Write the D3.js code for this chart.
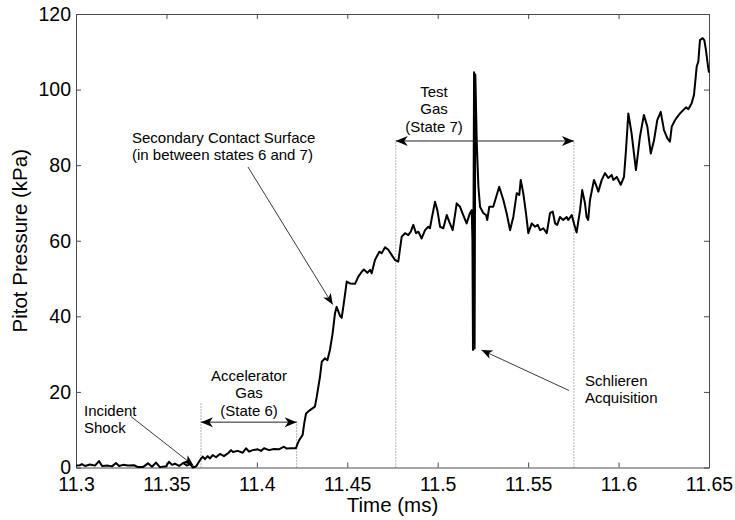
<!DOCTYPE html>
<html><head><meta charset="utf-8">
<script src="https://cdn.jsdelivr.net/npm/d3@7"></script>
<style>
body{margin:0;background:#fff}
svg{display:block}
text{font-family:"Liberation Sans",Arial,Helvetica,sans-serif;fill:#000}
</style>
</head><body>
<svg id="chart" width="735" height="520"></svg>
<script>
// ---- data ----
const time = [
11.3000,11.3022,11.3033,11.3050,11.3077,11.3105,11.3127,11.3144,11.3177,11.3199,
11.3221,11.3238,11.3260,11.3288,11.3321,11.3343,11.3370,11.3398,11.3420,11.3442,
11.3464,11.3498,11.3514,11.3531,11.3547,11.3570,11.3592,11.3614,11.3630,11.3647,
11.3664,11.3686,11.3701,11.3713,11.3728,11.3741,11.3756,11.3774,11.3796,11.3818,
11.3844,11.3857,11.3868,11.3894,11.3922,11.3940,11.3957,11.3977,11.4005,11.4023,
11.4040,11.4067,11.4095,11.4122,11.4150,11.4165,11.4189,11.4216,
11.4226,11.4235,11.4253,11.4262,11.4272,11.4294,11.4321,11.4331,11.4349,11.4359,
11.4377,11.4390,11.4404,11.4419,11.4432,11.4441,11.4460,11.4469,11.4478,11.4497,
11.4515,11.4543,11.4561,11.4580,11.4592,11.4611,11.4626,11.4635,11.4653,11.4677,
11.4690,11.4709,11.4727,11.4746,11.4764,11.4782,
11.4801,11.4819,11.4837,11.4851,11.4865,11.4880,11.4893,11.4911,11.4930,11.4948,
11.4957,11.4967,11.4985,11.4998,11.5013,11.5031,11.5050,11.5064,11.5083,11.5105,
11.5123,11.5141,11.5160,11.5178,11.5188,
11.5192,11.5195,11.5201,11.5204,11.5208,11.5216,
11.5225,11.5234,11.5252,11.5267,11.5274,11.5285,11.5307,11.5340,11.5363,11.5381,
11.5400,11.5418,11.5437,11.5451,11.5459,11.5473,11.5488,11.5501,11.5520,11.5538,
11.5553,11.5566,11.5584,11.5603,11.5621,11.5636,11.5649,11.5661,11.5676,11.5694,
11.5713,11.5722,11.5741,11.5753,11.5768,11.5787,11.5799,11.5814,11.5823,11.5832,
11.5842,11.5864,11.5879,11.5888,11.5907,11.5925,11.5943,11.5962,11.5971,11.5990,
11.6012,11.6030,11.6041,11.6054,11.6072,11.6096,11.6118,11.6140,11.6159,11.6178,
11.6196,11.6214,11.6233,11.6251,11.6270,11.6284,11.6294,11.6312,11.6325,11.6340,
11.6358,11.6373,11.6386,11.6404,11.6417,11.6432,11.6441,11.6450,11.6465,11.6474,
11.6483,11.6496,11.6500
];
const pressure = [
0.5,0.6,0.9,0.4,0.8,0.5,1.7,0.4,0.5,0.3,
1.2,0.4,0.7,0.5,0.6,0.1,0.1,1.1,0.2,1.3,
0.1,0.3,1.5,0.7,1.0,0.4,1.2,0.5,0.9,0.0,
0.3,2.0,2.9,2.2,3.0,2.4,3.3,2.7,3.6,3.0,
3.9,4.6,4.1,4.4,3.9,5.1,4.2,4.6,4.8,4.4,
5.1,4.6,4.9,4.8,5.5,5.0,5.1,5.1,
6.4,7.3,8.6,11.7,14.3,15.2,16.1,18.7,24.0,28.0,
28.9,28.4,31.1,35.5,40.8,42.5,40.1,39.6,42.5,49.2,
48.7,48.6,50.5,51.8,52.4,51.5,52.3,51.4,54.9,57.1,
56.7,58.3,57.6,56.2,54.9,54.5,
61.1,62.0,61.5,62.4,64.2,62.0,62.4,60.6,62.8,63.7,
63.3,65.9,70.3,68.1,63.7,63.3,66.8,65.0,62.8,69.9,
69.0,66.8,64.6,67.3,68.1,
60.0,31.1,104.6,31.5,104.0,85.8,
74.3,69.0,67.3,66.8,65.5,69.0,69.0,74.3,70.8,67.3,
62.8,66.3,72.6,72.1,76.1,72.6,67.3,62.0,64.6,63.7,
64.2,62.8,63.3,62.0,67.3,67.7,64.6,64.2,66.3,65.5,
66.3,65.5,66.8,64.6,62.2,68.1,73.4,70.0,66.3,65.5,
70.8,76.1,74.3,73.0,76.1,77.9,76.6,77.4,76.1,76.9,
74.8,76.9,84.0,93.7,88.4,78.7,87.5,93.3,90.2,83.1,
86.6,91.9,94.1,89.3,87.1,86.2,90.2,91.9,92.8,93.7,
94.6,95.3,94.8,96.4,98.6,106.1,107.4,113.1,113.6,113.1,
110.5,105.6,104.5
];
const xTicks = [11.3, 11.35, 11.4, 11.45, 11.5, 11.55, 11.6, 11.65];
const xTickLabels = ["11.3", "11.35", "11.4", "11.45", "11.5", "11.55", "11.6", "11.65"];
const yTicks = [0, 20, 40, 60, 80, 100, 120];
const yTickLabels = ["0", "20", "40", "60", "80", "100", "120"];
// region boundaries (time, ms) and the pressure level of their span arrows
const acceleratorBounds = [11.3691, 11.4220];
const acceleratorArrowLevel = 12.0;
const testGasBounds = [11.4768, 11.5753];
const testGasArrowLevel = 86.4;

// ---- layout ----
const svg = d3.select("#chart");
const L = 76, R = 709, T = 14, B = 467.5;
const x = d3.scaleLinear().domain([11.3, 11.65]).range([L, R]);
const y = d3.scaleLinear().domain([0, 120]).range([B, T]);
const axisColor = "#4a4a4a";
const tickFont = "19.5px";

function styleAxis(g) {
  g.selectAll(".domain").attr("stroke", axisColor).attr("stroke-width", 1);
  g.selectAll(".tick line").attr("stroke", axisColor);
  g.selectAll(".tick text").attr("font-family", '"Liberation Sans",Arial,sans-serif')
    .attr("font-size", tickFont).attr("fill", "#000");
}

// bottom
svg.append("g").attr("transform", `translate(0,${B})`)
  .call(d3.axisBottom(x).tickValues(xTicks).tickFormat((d, i) => xTickLabels[i])
    .tickSizeInner(-5).tickSizeOuter(0).tickPadding(10))
  .call(styleAxis);
// top
svg.append("g").attr("transform", `translate(0,${T})`)
  .call(d3.axisTop(x).tickValues(xTicks).tickFormat("").tickSizeInner(-5).tickSizeOuter(0))
  .call(styleAxis);
// left
svg.append("g").attr("transform", `translate(${L},0)`)
  .call(d3.axisLeft(y).tickValues(yTicks).tickFormat((d, i) => yTickLabels[i])
    .tickSizeInner(-5).tickSizeOuter(0).tickPadding(5))
  .call(styleAxis);
// right
svg.append("g").attr("transform", `translate(${R},0)`)
  .call(d3.axisRight(y).tickValues(yTicks).tickFormat("").tickSizeInner(-5).tickSizeOuter(0))
  .call(styleAxis);

// axis labels
svg.append("text").attr("x", (L + R) / 2).attr("y", 512).attr("text-anchor", "middle")
  .attr("font-size", "20.5px").text("Time (ms)");
svg.append("text").attr("transform", `translate(27,${(T + B) / 2}) rotate(-90)`)
  .attr("text-anchor", "middle").attr("font-size", "20.5px").text("Pitot Pressure (kPa)");

// dotted region lines
const dotted = [
  [acceleratorBounds[0], acceleratorArrowLevel + 5.3],
  [acceleratorBounds[1], acceleratorArrowLevel + 0.5],
  [testGasBounds[0], testGasArrowLevel + 0.2],
  [testGasBounds[1], testGasArrowLevel + 0.2]
];
svg.append("g").selectAll("line").data(dotted).join("line")
  .attr("x1", d => x(d[0])).attr("x2", d => x(d[0]))
  .attr("y1", y(0)).attr("y2", d => y(d[1]))
  .attr("stroke", "#666").attr("stroke-width", 1).attr("stroke-dasharray", "1,2");

// data line
const pts = time.map((t, i) => [t, pressure[i]]);
svg.append("path").datum(pts)
  .attr("d", d3.line().x(d => x(d[0])).y(d => y(d[1])))
  .attr("fill", "none").attr("stroke", "#000").attr("stroke-width", 2)
  .attr("stroke-linejoin", "round");

// arrows
function head(tx, ty, fx, fy, len = 11, hw = 4.5, notch = 3) {
  const a = Math.atan2(ty - fy, tx - fx);
  const c = Math.cos(a), s = Math.sin(a);
  const bx = tx - len * c, by = ty - len * s;
  const p1 = [bx - hw * s, by + hw * c];
  const p2 = [bx + hw * s, by - hw * c];
  const nb = [tx - (len - notch) * c, ty - (len - notch) * s];
  svg.append("path")
    .attr("d", `M${tx},${ty}L${p1[0]},${p1[1]}L${nb[0]},${nb[1]}L${p2[0]},${p2[1]}Z`)
    .attr("fill", "#000");
}
function arrow(fx, fy, tx, ty) {
  svg.append("line").attr("x1", fx).attr("y1", fy).attr("x2", tx).attr("y2", ty)
    .attr("stroke", "#222").attr("stroke-width", 0.9);
  head(tx, ty, fx, fy);
}
function doubleArrow(x1, x2, yy) {
  svg.append("line").attr("x1", x1).attr("y1", yy).attr("x2", x2).attr("y2", yy)
    .attr("stroke", "#222").attr("stroke-width", 1);
  head(x1, yy, x2, yy, 12, 5, 3.5);
  head(x2, yy, x1, yy, 12, 5, 3.5);
}

doubleArrow(x(acceleratorBounds[0]), x(acceleratorBounds[1]), y(acceleratorArrowLevel));
doubleArrow(x(testGasBounds[0]), x(testGasBounds[1]), y(testGasArrowLevel));

arrow(131, 416.5, 193.5, 465.5);   // incident shock
arrow(248, 167, 332.7, 304.5);     // secondary contact surface
arrow(569, 390.5, 481.5, 350);     // schlieren acquisition

// annotation texts
function label(lines, xx, y0, anchor, lh = 17.5) {
  const t = svg.append("text").attr("font-size", "15px").attr("text-anchor", anchor);
  lines.forEach((s, i) => t.append("tspan").attr("x", xx).attr("y", y0 + i * lh).text(s));
}
label(["Incident", "Shock"], 84, 415.5, "start", 17);
label(["Accelerator", "Gas", "(State 6)"], 249, 380.5, "middle", 17.7);
label(["Secondary Contact Surface", "(in between states 6 and 7)"], 132, 143, "start", 17);
label(["Test", "Gas", "(State 7)"], 434, 96.5, "middle", 17.5);
label(["Schlieren", "Acquisition"], 585, 385.5, "start", 17.5);
</script>
</body></html>
